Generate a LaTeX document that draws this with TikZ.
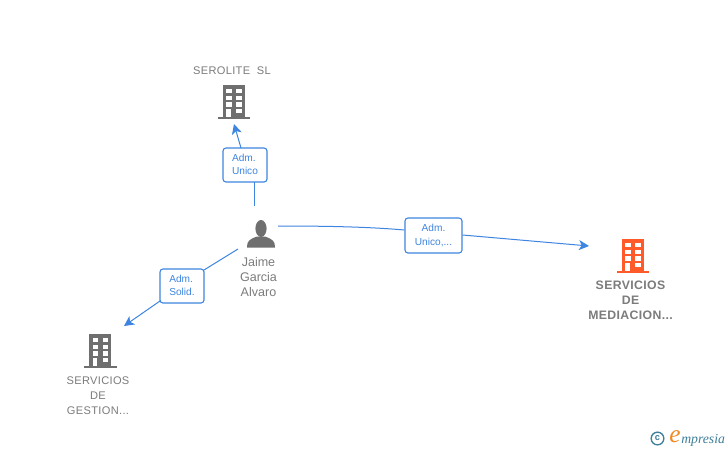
\documentclass[tikz,border=0pt]{standalone}
\usepackage{fontspec}
\setmainfont{Liberation Sans}
\newfontfamily\logofont{Liberation Serif}
\newfontfamily\spacedfont[LetterSpace=3]{Liberation Sans}
\usetikzlibrary{arrows.meta}
\definecolor{edgeblue}{HTML}{3D85E0}
\definecolor{icongrey}{HTML}{6F6F6F}
\definecolor{txtgrey}{HTML}{7C7C7C}
\definecolor{iconorange}{HTML}{FF5A2A}
\definecolor{logoteal}{HTML}{3F7F9A}
\definecolor{logoorange}{HTML}{F08A24}
\tikzset{
  x=0.75pt,y=-0.75pt,
  edgeline/.style={draw=edgeblue,line width=0.75pt},
  arrowline/.style={edgeline,-{Stealth[length=7.5pt,width=7.5pt,inset=2pt]}},
  rolebox/.style={draw=edgeblue,line width=0.8pt,rounded corners=2.2pt,fill=white,inner sep=0pt,
    text=edgeblue,font=\fontsize{7.6pt}{11pt}\selectfont},
  nametext/.style={text=txtgrey,font=\spacedfont\fontsize{8.3pt}{11.25pt}\selectfont,align=center,inner sep=0pt},
  boldname/.style={nametext,font=\spacedfont\fontsize{9.2pt}{11.25pt}\selectfont\bfseries},
  pics/bldg/.style={code={
    \fill[#1] (-10.5,-17) rectangle (11.5,15);
    \fill[#1] (-15.5,15) rectangle (17,17.3);
    \fill[white] (-7,-13) rectangle (-1.5,-8.7);
    \fill[white] (3,-13) rectangle (8.5,-8.7);
    \fill[white] (-7,-6.3) rectangle (-1.5,-2);
    \fill[white] (3,-6.3) rectangle (8.5,-2);
    \fill[white] (-7,0.3) rectangle (-1.5,4.7);
    \fill[white] (3,0.3) rectangle (8.5,4.7);
    \fill[white] (-7,7) rectangle (-2.5,15);
    \fill[white] (3,7) rectangle (8.5,11.3);
  }},
}
\begin{document}
\begin{tikzpicture}
\useasboundingbox[fill=white] (0,0) rectangle (728,450);
% icons
\pic at (233,102) {bldg=icongrey};
\pic at (632,256) {bldg=iconorange};
\pic at (99.5,351) {bldg=icongrey};
% person
\fill[icongrey] (261,228.5) ellipse (5.6 and 8.5);
\fill[icongrey] (247,247.5) .. controls (247,241) and (249,239.5) .. (257,236.5)
  -- (265,236.5) .. controls (273,239.5) and (275,241) .. (275,247.5) -- cycle;
% texts
\node[nametext] (n1) at (232,71) {SEROLITE\ \ SL};
\node[nametext,font=\fontsize{9.4pt}{11.25pt}\selectfont] (n2) at (258.5,277) {Jaime\\Garcia\\Alvaro};
\node[boldname] (n3) at (630.5,300) {SERVICIOS\\DE\\MEDIACION...};
\node[nametext] (n4) at (98,396) {SERVICIOS\\DE\\GESTION...};
% role boxes
\node[rolebox,minimum width=33pt,minimum height=25.5pt] (r1) at (245,165) {\begin{tabular}{@{}l@{}}Adm.\\[-0.6pt]Unico\end{tabular}};
\node[rolebox,minimum width=42.75pt,minimum height=26.25pt] (r2) at (433.5,235.5) {\begin{tabular}{@{}c@{}}Adm.\\[-0.6pt]Unico,...\end{tabular}};
\node[rolebox,minimum width=33pt,minimum height=25.5pt] (r3) at (182,286) {\begin{tabular}{@{}l@{}}Adm.\\[-0.6pt]Solid.\end{tabular}};
% free ends
\coordinate (a1) at (254,206);
\coordinate (t1) at (234,124);
\coordinate (a2) at (278,226);
\coordinate (t2) at (589,246);
\coordinate (a3) at (238,249);
\coordinate (t3) at (124,326);
% connectors
\draw[edgeline] (a1) -- (254,182);
\draw[arrowline] (241,148) -- (t1);
\draw[edgeline] (a2) .. controls (330,226) and (370,227) .. (r2.west |- 0,230);
\draw[arrowline] (r2.east |- 0,235) -- (t2);
\draw[edgeline] (a3) -- (204,270);
\draw[arrowline] (160,301) -- (t3);
% logo
\node[draw=logoteal,line width=1pt,circle,minimum size=9.5pt,inner sep=0pt,text=logoteal,font=\bfseries\fontsize{7pt}{7pt}\selectfont] (c) at (657.5,438.5) {c};
\node[text=logoorange,inner sep=0pt,font=\logofont\itshape\fontsize{19pt}{19pt}\selectfont] (e) at (675,437) {e};
\node[text=logoteal,inner sep=0pt,anchor=west,font=\logofont\itshape\fontsize{10.3pt}{10.3pt}\selectfont] (m) at (681,440) {mpresia};
\end{tikzpicture}
\end{document}
